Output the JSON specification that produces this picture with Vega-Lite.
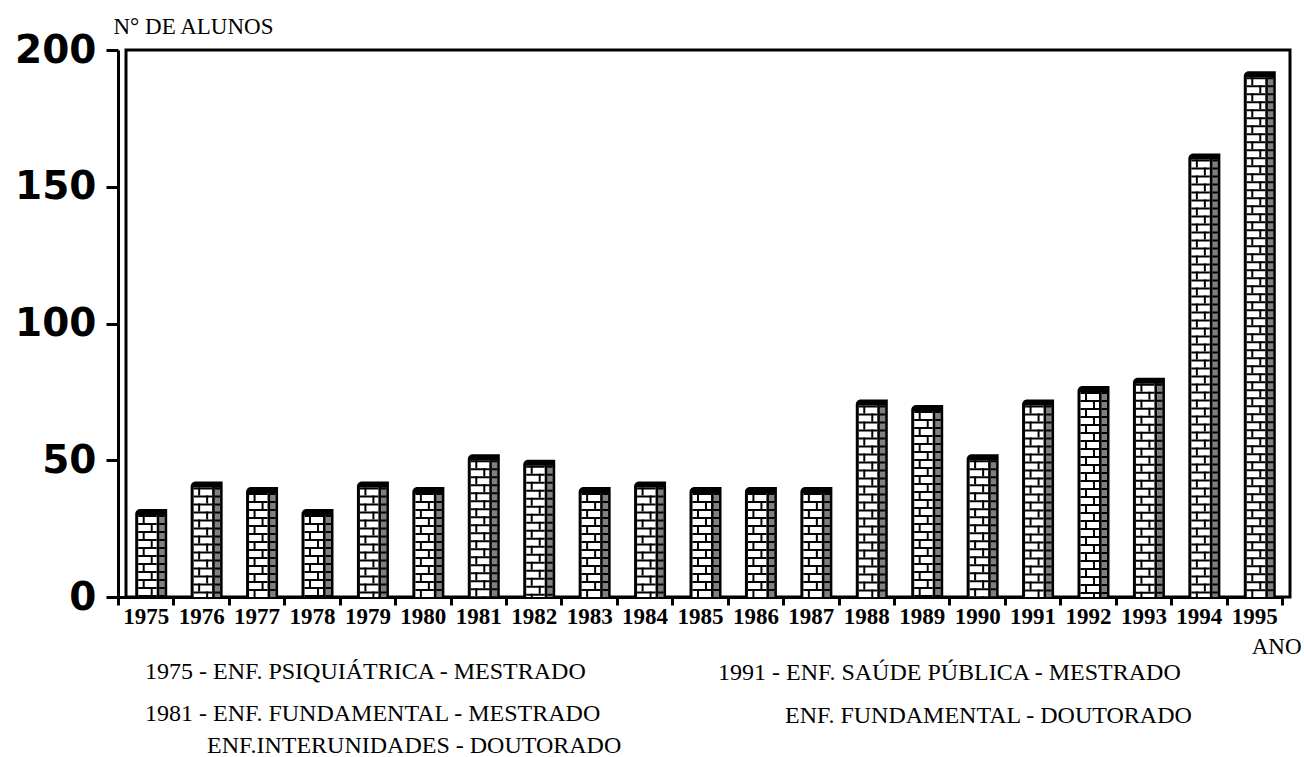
{
  "$schema": "https://vega.github.io/schema/vega-lite/v6.json",
  "width": 1164,
  "height": 547,
  "autosize": {"type": "none"},
  "padding": {"left": 126, "top": 50, "right": 14, "bottom": 160},
  "background": "white",
  "config": {"view": {"stroke": "black", "strokeWidth": 3}, "axis": {"grid": false}},
  "datasets": {
    "bars": [
      {"ano": "1975", "alunos": 30},
      {"ano": "1976", "alunos": 40},
      {"ano": "1977", "alunos": 38},
      {"ano": "1978", "alunos": 30},
      {"ano": "1979", "alunos": 40},
      {"ano": "1980", "alunos": 38},
      {"ano": "1981", "alunos": 50},
      {"ano": "1982", "alunos": 48},
      {"ano": "1983", "alunos": 38},
      {"ano": "1984", "alunos": 40},
      {"ano": "1985", "alunos": 38},
      {"ano": "1986", "alunos": 38},
      {"ano": "1987", "alunos": 38},
      {"ano": "1988", "alunos": 70},
      {"ano": "1989", "alunos": 68},
      {"ano": "1990", "alunos": 50},
      {"ano": "1991", "alunos": 70},
      {"ano": "1992", "alunos": 75},
      {"ano": "1993", "alunos": 78},
      {"ano": "1994", "alunos": 160},
      {"ano": "1995", "alunos": 190}
    ]
  },
  "layer": [
    {
      "data": {"name": "bars"},
      "encoding": {
        "x": {
          "field": "ano",
          "type": "nominal",
          "scale": {"range": [-8, 1156], "paddingInner": 0, "paddingOuter": 0},
          "axis": {
            "title": "ANO",
            "titleFont": "Liberation Serif",
            "titleFontWeight": "normal",
            "titleFontSize": 23,
            "titleColor": "black",
            "titleAlign": "right",
            "titleBaseline": "alphabetic",
            "titleX": 1175,
            "titleY": 56,
            "labelFont": "Liberation Serif",
            "labelFontWeight": "bold",
            "labelFontSize": 23,
            "labelColor": "black",
            "labelPadding": 0,
            "labelAngle": 0,
            "labelOverlap": false,
            "tickBand": "extent",
            "tickSize": 8,
            "tickWidth": 3,
            "tickColor": "black",
            "domainColor": "black",
            "domainWidth": 3
          }
        },
        "y": {
          "field": "alunos",
          "type": "quantitative",
          "scale": {"domain": [0, 200], "nice": false},
          "axis": {
            "title": "N° DE ALUNOS",
            "titleAngle": 0,
            "titleAlign": "left",
            "titleBaseline": "alphabetic",
            "titleX": -5,
            "titleY": -17,
            "titleFont": "Liberation Serif",
            "titleFontWeight": "normal",
            "titleFontSize": 23,
            "titleColor": "black",
            "values": [0, 50, 100, 150, 200],
            "offset": 8,
            "labelFont": "DejaVu Sans",
            "labelFontWeight": "bold",
            "labelFontSize": 39,
            "labelColor": "black",
            "labelPadding": 10,
            "tickSize": 12,
            "tickWidth": 3,
            "tickColor": "black",
            "domainColor": "black",
            "domainWidth": 3
          }
        },
        "y2": {"datum": 0}
      },
      "layer": [
        {"mark": {"type": "bar", "width": 32, "xOffset": 5.5, "yOffset": -6, "fill": "black", "cornerRadiusTopLeft": 5}},
        {"mark": {"type": "bar", "width": 5.5, "xOffset": 16.25, "fill": "#808080"}},
        {"mark": {"type": "bar", "width": 18.5, "xOffset": 1.75, "fill": "white"}},
        {"mark": {"type": "rule", "xOffset": 1.75, "strokeWidth": 18.5, "stroke": "black", "strokeDash": [2, 6]}},
        {"mark": {"type": "rule", "xOffset": 16.25, "strokeWidth": 5.5, "stroke": "black", "strokeDash": [2, 6]}},
        {"mark": {"type": "rule", "xOffset": -2, "strokeWidth": 2, "stroke": "black", "strokeDash": [8, 8]}},
        {"mark": {"type": "rule", "xOffset": 6, "strokeWidth": 2, "stroke": "black", "strokeDash": [8, 8], "strokeDashOffset": 8}}
      ]
    },
    {
      "data": {"values": [{"ano": "1975", "text": "1975 - ENF. PSIQUIÁTRICA - MESTRADO"}]},
      "mark": {"type": "text", "align": "left", "baseline": "middle", "font": "Liberation Serif", "fontSize": 24, "fill": "black", "clip": false, "dx": 27},
      "encoding": {"x": {"field": "ano", "type": "nominal", "bandPosition": 0}, "y": {"datum": -27.4}, "text": {"field": "text"}}
    },
    {
      "data": {"values": [{"ano": "1975", "text": "1981 - ENF. FUNDAMENTAL - MESTRADO"}]},
      "mark": {"type": "text", "align": "left", "baseline": "middle", "font": "Liberation Serif", "fontSize": 24, "fill": "black", "clip": false, "dx": 27},
      "encoding": {"x": {"field": "ano", "type": "nominal", "bandPosition": 0}, "y": {"datum": -42.8}, "text": {"field": "text"}}
    },
    {
      "data": {"values": [{"ano": "1975", "text": "ENF.INTERUNIDADES - DOUTORADO"}]},
      "mark": {"type": "text", "align": "left", "baseline": "middle", "font": "Liberation Serif", "fontSize": 24, "fill": "black", "clip": false, "dx": 89},
      "encoding": {"x": {"field": "ano", "type": "nominal", "bandPosition": 0}, "y": {"datum": -54.5}, "text": {"field": "text"}}
    },
    {
      "data": {"values": [{"ano": "1975", "text": "1991 - ENF. SAÚDE PÚBLICA - MESTRADO"}]},
      "mark": {"type": "text", "align": "left", "baseline": "middle", "font": "Liberation Serif", "fontSize": 24, "fill": "black", "clip": false, "dx": 600},
      "encoding": {"x": {"field": "ano", "type": "nominal", "bandPosition": 0}, "y": {"datum": -27.8}, "text": {"field": "text"}}
    },
    {
      "data": {"values": [{"ano": "1975", "text": "ENF. FUNDAMENTAL - DOUTORADO"}]},
      "mark": {"type": "text", "align": "left", "baseline": "middle", "font": "Liberation Serif", "fontSize": 24, "fill": "black", "clip": false, "dx": 667},
      "encoding": {"x": {"field": "ano", "type": "nominal", "bandPosition": 0}, "y": {"datum": -43.5}, "text": {"field": "text"}}
    }
  ]
}
